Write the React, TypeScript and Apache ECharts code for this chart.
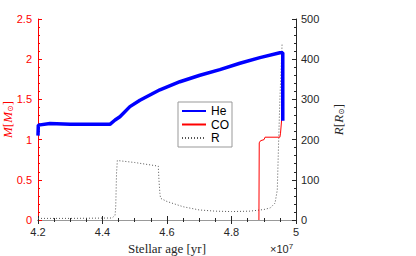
import React, { useEffect, useRef } from "react";
import * as echarts from "echarts";

// Time in units of 1e7 yr
const heT = [4.2, 4.201, 4.237, 4.3, 4.35, 4.423, 4.439, 4.454, 4.485, 4.516, 4.578, 4.64, 4.702, 4.764, 4.826, 4.888, 4.95, 4.959, 4.959];
const heM = [1.05, 1.18, 1.2, 1.19, 1.19, 1.19, 1.244, 1.285, 1.41, 1.49, 1.62, 1.72, 1.8, 1.87, 1.95, 2.02, 2.08, 2.08, 1.235];

const coT = [4.885, 4.886, 4.89, 4.901, 4.904, 4.95, 4.952, 4.957];
const coM = [0, 0.96, 0.986, 1.0, 1.03, 1.03, 1.08, 1.32];

const rT = [4.2, 4.3, 4.43, 4.439, 4.441, 4.4435, 4.446, 4.5, 4.573, 4.575, 4.578, 4.58, 4.6, 4.65, 4.7, 4.75, 4.8, 4.857, 4.9, 4.92, 4.935, 4.942, 4.946, 4.95, 4.957];
const rR = [4, 4, 5, 12, 33, 116, 148, 143, 134, 100, 66, 54, 46, 33, 25, 22, 21, 22, 26, 30, 42, 75, 191, 300, 440];

const xTicks = { min: 4.2, max: 5, interval: 0.2 };
const mTicks = { min: 0, max: 2.5, interval: 0.5 };
const rTicks = { min: 0, max: 500, interval: 100 };

const seriesNames = ["He", "CO", "R"];

const fmt = (v: number) => String(+v.toFixed(2));

export default function App() {
  const ref = useRef<HTMLDivElement>(null);
  useEffect(() => {
    const chart = echarts.init(ref.current!, null, { renderer: "svg" });
    const dark = "#262626";
    const labelFont = { fontFamily: "Liberation Sans", fontSize: 11 };
    const zip = (a: number[], b: number[]) => a.map((x, i) => [x, b[i]]);
    chart.setOption({
      animation: false,
      backgroundColor: "#fff",
      grid: { left: 38, right: 120, top: 19, bottom: 36, outerBoundsMode: "none", containLabel: false },
      legend: {
        data: seriesNames,
        orient: "vertical",
        left: 178,
        top: 102,
        itemWidth: 24,
        itemHeight: 12,
        itemGap: 1.5,
        padding: [3, 3, 3, 3],
        borderColor: "#999",
        borderWidth: 1,
        backgroundColor: "#fff",
        itemStyle: { color: "rgba(0,0,0,0)", borderWidth: 0, borderColor: "rgba(0,0,0,0)" },
        textStyle: { ...labelFont, fontSize: 12, color: "#000" },
      },
      xAxis: [
        {
          type: "value",
          ...xTicks,
          name: "Stellar age [yr]",
          nameLocation: "middle",
          nameGap: 22,
          nameMoveOverlap: false,
          nameTextStyle: { fontFamily: "Liberation Serif", fontSize: 13, color: dark },
          axisLine: { lineStyle: { color: dark } },
          axisTick: { inside: true, length: 4, lineStyle: { color: dark } },
          minorTick: { show: true, splitNumber: 4, length: 2, lineStyle: { color: dark } },
          axisLabel: { ...labelFont, color: dark, margin: 6, formatter: fmt },
          splitLine: { show: false },
        },
        {
          type: "value",
          position: "top",
          ...xTicks,
          axisLine: { lineStyle: { color: "#999" } },
          axisTick: { inside: true, length: 4, lineStyle: { color: dark } },
          minorTick: { show: true, splitNumber: 4, length: 2, lineStyle: { color: dark } },
          axisLabel: { show: false },
          splitLine: { show: false },
        },
      ],
      yAxis: [
        {
          type: "value",
          ...mTicks,
          name: "{i|M}[{i|M}{s|⊙}]",
          nameLocation: "middle",
          nameGap: 24,
          nameRotate: 90,
          nameMoveOverlap: false,
          nameTextStyle: {
            color: "#ff0000",
            fontFamily: "Liberation Serif",
            fontSize: 13,
            rich: {
              i: { fontStyle: "italic", fontFamily: "Liberation Serif", fontSize: 13, color: "#ff0000" },
              s: { fontFamily: "DejaVu Sans", fontSize: 8, color: "#ff0000", padding: [6, 0, 0, 0] },
            },
          },
          axisLine: { show: true, lineStyle: { color: "#ff0000" } },
          axisTick: { inside: true, length: 4, lineStyle: { color: "#ff0000" } },
          minorTick: { show: true, splitNumber: 5, length: 2, lineStyle: { color: "#ff0000" } },
          axisLabel: { ...labelFont, color: "#ff0000", margin: 6, formatter: fmt },
          splitLine: { show: false },
        },
        {
          type: "value",
          ...rTicks,
          position: "right",
          name: "{i|R}[{i|R}{s|⊙}]",
          nameLocation: "middle",
          nameGap: 35,
          nameRotate: 90,
          nameMoveOverlap: false,
          nameTextStyle: {
            color: dark,
            fontFamily: "Liberation Serif",
            fontSize: 13,
            rich: {
              i: { fontStyle: "italic", fontFamily: "Liberation Serif", fontSize: 13, color: dark },
              s: { fontFamily: "DejaVu Sans", fontSize: 8, color: dark, padding: [6, 0, 0, 0] },
            },
          },
          axisLine: { show: true, lineStyle: { color: dark } },
          axisTick: { inside: true, length: 4, lineStyle: { color: dark } },
          minorTick: { show: true, splitNumber: 5, length: 2, lineStyle: { color: dark } },
          axisLabel: { ...labelFont, color: dark, margin: 5, formatter: fmt },
          splitLine: { show: false },
        },
      ],
      graphic: [
        {
          type: "text",
          left: 270,
          top: 242,
          style: {
            text: "×10{sup|7}",
            fontFamily: "Liberation Sans",
            fontSize: 11,
            lineHeight: 12,
            fill: dark,
            rich: { sup: { fontSize: 8, lineHeight: 12, fontFamily: "Liberation Sans", padding: [0, 0, 6, 0], fill: dark } },
          },
        },
      ],
      series: [
        {
          name: "R",
          type: "line",
          yAxisIndex: 1,
          data: zip(rT, rR),
          symbol: "none",
          lineStyle: { color: "#555", width: 1, type: [1, 2] },
          itemStyle: { color: "#555" },
          z: 1,
        },
        {
          name: "CO",
          type: "line",
          yAxisIndex: 0,
          data: zip(coT, coM),
          symbol: "none",
          lineStyle: { color: "#ff0000", width: 1 },
          itemStyle: { color: "#ff0000" },
          z: 2,
        },
        {
          name: "He",
          type: "line",
          yAxisIndex: 0,
          data: zip(heT, heM),
          symbol: "none",
          lineStyle: { color: "#0000ff", width: 3.5 },
          itemStyle: { color: "#0000ff" },
          z: 3,
        },
      ],
    });
    return () => chart.dispose();
  }, []);
  return <div ref={ref} style={{ width: 416, height: 256, position: "absolute", left: 0, top: 0 }} />;
}
